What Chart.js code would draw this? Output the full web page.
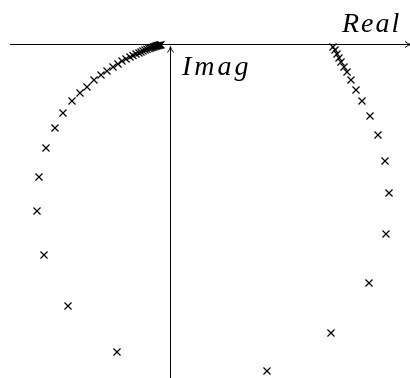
<!DOCTYPE html>
<html>
<head>
<meta charset="utf-8">
<script src="https://cdn.jsdelivr.net/npm/chart.js@4/dist/chart.umd.min.js"></script>
<style>
  body { margin: 0; background: #fff; }
  #wrap { width: 410px; height: 378px; }
</style>
</head>
<body>
<div id="wrap"><canvas id="nyquist" width="410" height="378"></canvas></div>
<script>
// poli del ramo sinistro (parte reale / immaginaria)
const sxRe = [-0.53, -1.02, -1.26, -1.33, -1.31, -1.24, -1.15, -1.07, -0.98, -0.90,
  -0.83, -0.76, -0.69, -0.63, -0.57, -0.52, -0.48, -0.44, -0.40, -0.37,
  -0.34, -0.31, -0.29, -0.27, -0.25, -0.23, -0.21, -0.195, -0.18, -0.165,
  -0.15, -0.14, -0.13, -0.12, -0.11, -0.10, -0.09];
const sxIm = [-3.08, -2.62, -2.11, -1.67, -1.33, -1.04, -0.84, -0.69, -0.57, -0.49,
  -0.43, -0.36, -0.31, -0.27, -0.23, -0.20, -0.17, -0.15, -0.13, -0.115,
  -0.10, -0.09, -0.08, -0.07, -0.06, -0.053, -0.046, -0.04, -0.035, -0.03,
  -0.025, -0.021, -0.018, -0.015, -0.012, -0.010, -0.008];

// ramo destro
const dxRe = [1.63, 1.65, 1.67, 1.69, 1.71, 1.74, 1.77, 1.81, 1.86, 1.92,
  2.00, 2.08, 2.15, 2.19, 2.16, 1.99, 1.61, 0.97];
const dxIm = [-0.03, -0.06, -0.10, -0.14, -0.18, -0.23, -0.28, -0.36, -0.46, -0.57,
  -0.72, -0.91, -1.17, -1.49, -1.90, -2.39, -2.89, -3.27];

// etichette degli assi
const etichette = ["Real", "Imag"];

function punti(re, im) {
  let out = [];
  for (let i = 0; i < re.length; i++) {
    out.push({ x: re[i], y: im[i] });
  }
  return out;
}

// assi con freccia disegnati sopra l'origine
const assi = {
  id: 'assi',
  beforeDatasetsDraw(chart) {
    const c = chart.ctx;
    const x0 = Math.round(chart.scales.x.getPixelForValue(0)) + 0.5;
    const y0 = Math.round(chart.scales.y.getPixelForValue(0)) + 0.5;
    c.save();
    c.strokeStyle = '#000';
    c.lineWidth = 1;
    // asse reale
    c.beginPath();
    c.moveTo(10, y0);
    c.lineTo(410, y0);
    c.stroke();
    c.beginPath();
    c.moveTo(405, y0 - 3);
    c.quadraticCurveTo(408, y0 - 0.5, 411, y0);
    c.quadraticCurveTo(408, y0 + 0.5, 405, y0 + 3);
    c.stroke();
    // asse immaginario
    c.beginPath();
    c.moveTo(x0, 378);
    c.lineTo(x0, y0 + 2);
    c.stroke();
    c.beginPath();
    c.moveTo(x0 - 3, y0 + 8);
    c.quadraticCurveTo(x0 - 0.5, y0 + 5, x0, y0 + 2);
    c.quadraticCurveTo(x0 + 0.5, y0 + 5, x0 + 3, y0 + 8);
    c.stroke();
    // testi
    c.fillStyle = '#000';
    c.font = 'italic 28px "Liberation Serif", "Times New Roman", "DejaVu Serif", serif';
    c.textBaseline = 'alphabetic';
    c.letterSpacing = '2px';
    c.fillText(etichette[0], 342, 32);
    c.letterSpacing = '3px';
    c.fillText(etichette[1], 182, 75);
    c.restore();
  }
};

const stile = {
  showLine: false,
  pointStyle: 'crossRot',
  pointRadius: 5,
  pointHoverRadius: 5,
  pointBorderWidth: 1.2,
  borderColor: '#000',
  backgroundColor: '#000'
};

new Chart(document.getElementById('nyquist'), {
  type: 'scatter',
  data: {
    datasets: [
      Object.assign({ label: 'sx', data: punti(sxRe, sxIm) }, stile),
      Object.assign({ label: 'dx', data: punti(dxRe, dxIm) }, stile)
    ]
  },
  options: {
    responsive: false,
    animation: false,
    layout: { padding: 0, autoPadding: false },
    clip: false,
    plugins: { legend: { display: false }, tooltip: { enabled: false } },
    scales: {
      x: { type: 'linear', display: false, min: -1.70, max: 2.40 },
      y: { type: 'linear', display: false, min: -3.34, max: 0.44 }
    }
  },
  plugins: [assi]
});
</script>
</body>
</html>
